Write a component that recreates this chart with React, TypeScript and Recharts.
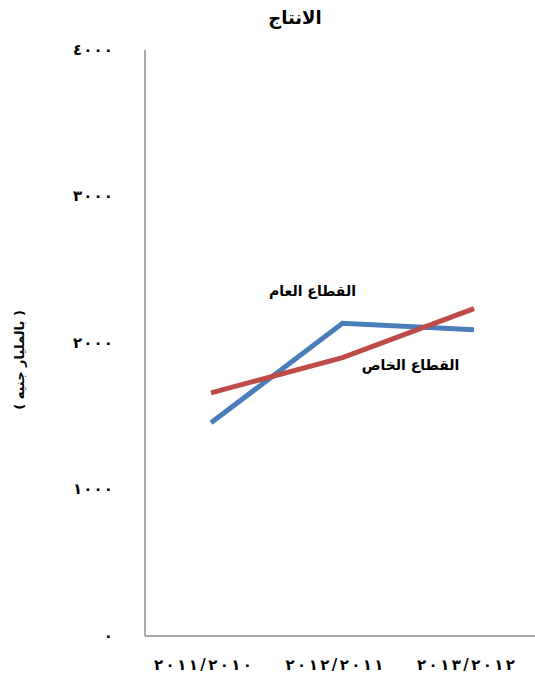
import { LineChart, Line, XAxis, YAxis, LabelList } from 'recharts'

const categories = ['٢٠١١/٢٠١٠', '٢٠١٢/٢٠١١', '٢٠١٣/٢٠١٢']
const publicSector = [1455, 2135, 2090]
const privateSector = [1660, 1900, 2235]
const yTicks = [0, 1000, 2000, 3000, 4000]
const yTickLabels = ['٠', '١٠٠٠', '٢٠٠٠', '٣٠٠٠', '٤٠٠٠']
const seriesNames = ['القطاع العام', 'القطاع الخاص']

const data = categories.map((c, i) => ({
  name: c,
  pub: publicSector[i],
  priv: privateSector[i],
}))

const FONT = '"DejaVu Sans", sans-serif'

function seriesLabel(text: string, dx: number, dy: number) {
  return (props: any) => {
    if (props.index !== 1) return null
    return (
      <text
        x={props.x + dx}
        y={props.y + dy}
        textAnchor="middle"
        dominantBaseline="middle"
        fontFamily={FONT}
        fontSize={14}
        fontWeight={700}
        fill="#000"
      >
        {text}
      </text>
    )
  }
}

function XTick(props: any) {
  const { x, y, payload } = props
  return (
    <text
      x={x - 8}
      y={y + 6}
      textAnchor="middle"
      dominantBaseline="middle"
      direction="ltr"
      fontFamily={FONT}
      fontSize={15}
      fontWeight={700}
      fill="#000"
      textLength={98}
      lengthAdjust="spacing"
    >
      {payload.value}
    </text>
  )
}

function YTick(props: any) {
  const { x, y, payload } = props
  const label = yTickLabels[yTicks.indexOf(payload.value)]
  const extra = label.length > 1 ? { textLength: 40, lengthAdjust: 'spacing' } : {}
  return (
    <text
      x={x}
      y={y}
      textAnchor="end"
      dominantBaseline="middle"
      direction="ltr"
      fontFamily={FONT}
      fontSize={15}
      fontWeight={700}
      fill="#000"
      {...extra}
    >
      {label}
    </text>
  )
}

export default function App() {
  return (
    <div style={{ position: 'absolute', left: 0, top: 0, width: 535, height: 684, overflow: 'hidden', background: '#fff' }}>
      <div
        style={{
          position: 'absolute',
          left: 245,
          top: 7,
          width: 100,
          textAlign: 'center',
          fontFamily: FONT,
          fontWeight: 700,
          fontSize: 18,
        }}
      >
        الانتاج
      </div>
      <LineChart width={545} height={684} data={data} margin={{ top: 50, right: 5, bottom: 0, left: 0 }}>
        <XAxis
          dataKey="name"
          height={48}
          padding={{ left: 66, right: 66 }}
          tickLine={false}
          tickSize={0}
          tickMargin={23}
          axisLine={{ stroke: '#8c8c8c', strokeWidth: 1.5 }}
          tick={<XTick />}
        />
        <YAxis
          width={145}
          domain={[0, 4000]}
          ticks={yTicks}
          tickLine={false}
          tickSize={0}
          tickMargin={32}
          axisLine={{ stroke: '#8c8c8c', strokeWidth: 1.5 }}
          tick={<YTick />}
          label={{
            content: () => (
              <text
                x={20}
                y={360}
                transform="rotate(-90 20 360)"
                textAnchor="middle"
                dominantBaseline="middle"
                fontFamily={FONT}
                fontSize={13}
                fontWeight={700}
                fill="#000"
              >
                ( بالمليار جنيه )
              </text>
            ),
          }}
        />
        <Line
          dataKey="pub"
          stroke="#4a7ebb"
          strokeWidth={5}
          dot={false}
          isAnimationActive={false}
        >
          <LabelList content={seriesLabel(seriesNames[0], -30, -31)} />
        </Line>
        <Line
          dataKey="priv"
          stroke="#be4b48"
          strokeWidth={5}
          dot={false}
          isAnimationActive={false}
        >
          <LabelList content={seriesLabel(seriesNames[1], 68, 8)} />
        </Line>
      </LineChart>
    </div>
  )
}
